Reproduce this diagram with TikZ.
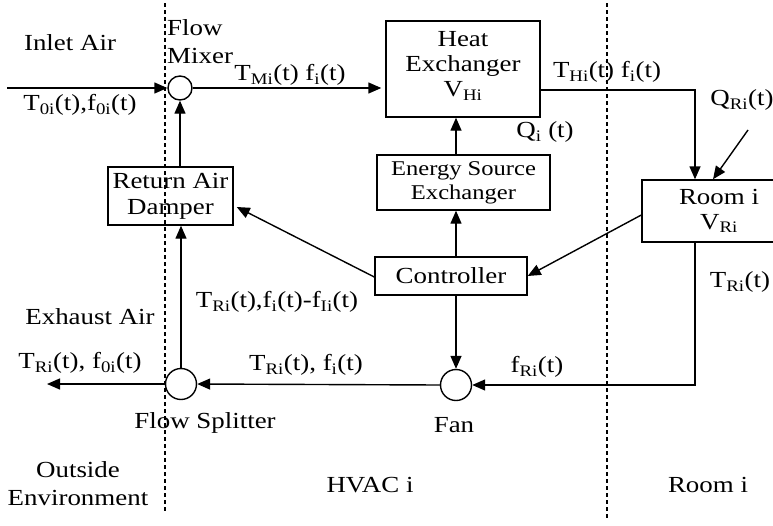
\documentclass[tikz,border=0pt]{standalone}
\usepackage{fontspec}
\setmainfont{Liberation Serif}[FakeStretch=1.17]
\usetikzlibrary{arrows.meta,positioning}

\tikzset{
	blk/.style={draw, line width=1.4pt, inner sep=0pt, align=center, font=\fontsize{23}{26}\selectfont},
	jn/.style={draw, circle, line width=1.4pt, inner sep=0pt},
	flow/.style={line width=1.4pt, -{Triangle[length=13pt,width=11pt]}},
	zone/.style={line width=1.2pt, dash pattern=on 4pt off 3pt},
	lbl/.style={inner sep=0pt, align=center, font=\fontsize{23}{28}\selectfont},
}

\begin{document}
\begin{tikzpicture}[x=1pt, y=-1pt]
			\useasboundingbox (0, 0) rectangle (773, 525);
			\draw[zone] (165, 3) -- (165, 513);
			\draw[zone] (607, 3) -- (607, 520);
			% blocks
			\node[blk, minimum width=154pt, minimum height=96pt](HX) at (463, 69){} node[lbl, font=\fontsize{23}{25}\selectfont](HXt) at (463, 66){Heat\\Exchanger\\V\textsubscript{Hi}};
			\node[blk, minimum width=173pt, minimum height=55pt, font=\fontsize{21}{24}\selectfont](ESE) at (463.5, 182.5){Energy Source\\Exchanger};
			\node[blk, minimum width=152pt, minimum height=38pt](CTRL) at (451, 276){Controller};
			\node[blk, minimum width=125pt, minimum height=58pt](DMP) at (170.5, 196){Return Air\\Damper};
			\node[blk, minimum width=154pt, minimum height=62pt, font=\fontsize{23}{25}\selectfont](ROOM) at (719, 211){Room i\\V\textsubscript{Ri}};
			\node[jn, minimum size=24pt](MIX) at (180, 88){};
			\node[jn, minimum size=31pt](SPL) at (181, 384){};
			\node[jn, minimum size=31pt](FAN) at (456, 385){};
			\coordinate (IN) at (7, 88);
			\coordinate (EX) at (47, 384);
			\coordinate (QIN) at (748, 130);
			% connectors
			\draw[flow] (IN) -- (MIX.west);
			\draw[flow, shorten >=4pt] (MIX.east) -- (HX.west |- MIX.east);
			\draw[flow] ([yshift=-21pt]HX.east) -| ([xshift=-24pt]ROOM.north);
			\draw[flow] (QIN) -- ([xshift=-6pt]ROOM.north);
			\draw[flow] ([yshift=-4pt]ROOM.west) -- (CTRL.east);
			\draw[flow] ([yshift=-1pt]CTRL.west) -- ([xshift=3pt, yshift=-11pt]DMP.east);
			\draw[flow] (CTRL.north -| FAN) -- (ESE.south -| FAN);
			\draw[flow] (ESE.north -| FAN) -- (HX.south -| FAN);
			\draw[flow] (CTRL.south -| FAN) -- (FAN.north);
			\draw[flow] ([xshift=-24pt]ROOM.south) |- (FAN.east);
			\draw[flow] (FAN.west) -- (SPL.east);
			\draw[flow] (SPL.west) -- (EX);
			\draw[flow] (SPL.north) -- (DMP.south -| SPL);
			\draw[flow] (DMP.north -| MIX) -- (MIX.south);
			% labels
			\node[lbl](inlet) at (70, 43){Inlet Air};
			\node[lbl, align=left, anchor=north west](mixer) at (167, 19){Flow\\Mixer};
			\node[lbl](t0i) at (80, 105){T\textsubscript{0i}(t),f\textsubscript{0i}(t)};
			\node[lbl](tmi) at (290, 75){T\textsubscript{Mi}(t) f\textsubscript{i}(t)};
			\node[lbl](thi) at (607, 72){T\textsubscript{Hi}(t) f\textsubscript{i}(t)};
			\node[lbl](qi) at (545, 132){Q\textsubscript{i} (t)};
			\node[lbl](qri) at (742, 100){Q\textsubscript{Ri}(t)};
			\node[lbl](trr) at (740, 282){T\textsubscript{Ri}(t)};
			\node[lbl](fri) at (537, 367){f\textsubscript{Ri}(t)};
			\node[lbl](trf) at (306, 365){T\textsubscript{Ri}(t), f\textsubscript{i}(t)};
			\node[lbl](trd) at (277, 302){T\textsubscript{Ri}(t),f\textsubscript{i}(t)-f\textsubscript{Ii}(t)};
			\node[lbl](exh) at (90, 317){Exhaust Air};
			\node[lbl](tre) at (80, 363){T\textsubscript{Ri}(t), f\textsubscript{0i}(t)};
			\node[lbl](splt) at (205, 423){Flow Splitter};
			\node[lbl](fant) at (454, 425){Fan};
			\node[lbl](outz) at (78, 484){Outside\\Environment};
			\node[lbl](hvz) at (370, 485){HVAC i};
			\node[lbl](rmz) at (708, 485){Room i};
		\end{tikzpicture}
\end{document}
